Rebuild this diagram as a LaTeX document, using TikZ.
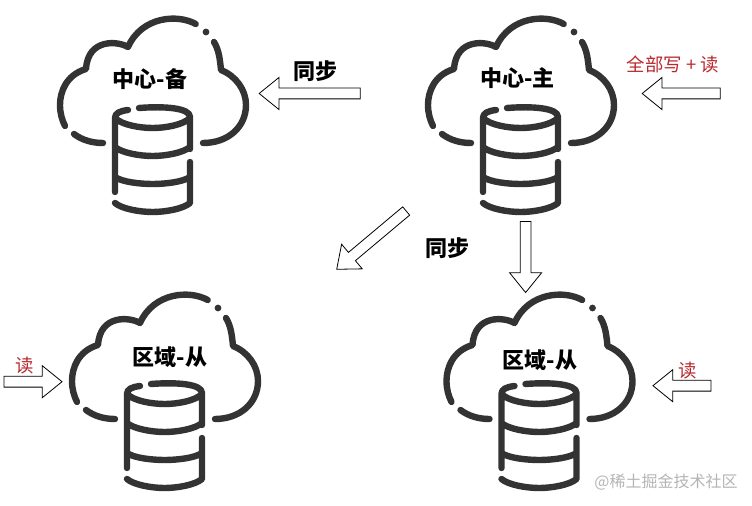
\documentclass[tikz,border=0pt]{standalone}
\usepackage{fontspec}
\usepackage{tikz}
\usetikzlibrary{shapes.arrows}
\newfontfamily\cjk{Noto Sans CJK SC}
\definecolor{iconline}{HTML}{333333}
\definecolor{labelred}{HTML}{B8282E}
\definecolor{markgray}{HTML}{B4B4B4}
\tikzset{
    flow/.style={
           single arrow,
           draw=black, line width=0.6pt,
           fill=white,
           inner xsep=0pt,
           inner ysep=3.75pt,
           minimum width=23.5pt,
           single arrow head extend=8pt,
           single arrow tip angle=78,
           },
    title/.style={font=\cjk\bfseries\fontsize{16.5}{17}\selectfont, text=black, inner sep=0pt},
    access/.style={font=\cjk\fontsize{13.8}{14}\selectfont, text=labelred, inner sep=0pt},
    pics/cloudstore/.style={
      code={
        \draw[iconline, line width=4.8pt, line cap=round, line join=round]
          (165.7,14) .. controls (148,4) and (112,6) .. (98,37)
            .. controls (88,31) and (58,28) .. (56,59)
            .. controls (36,65) and (30,82) .. (30,95)
            .. controls (30,103) and (32,110) .. (35,116)
          (44,124) .. controls (52,130) and (62,133) .. (73,133)
          (184,32) .. controls (189,40) and (190,50) .. (191,60)
            .. controls (206,66) and (216,80) .. (216,95)
            .. controls (216,117) and (198,133) .. (173,133)
          % store
          (109,98) .. controls (135,96) and (160,98) .. (160,107)
            -- (160,139)
          (98,100) .. controls (90,101) and (85,103) .. (85,108)
            -- (85,182)
          (85,108) .. controls (92,115) and (110,118) .. (122.7,118)
            .. controls (135,118) and (153,115) .. (160,108)
          (85,137) .. controls (92,143) and (110,146) .. (122.7,146)
            .. controls (135,146) and (153,143) .. (160,137)
          (85,167) .. controls (92,172) and (110,174) .. (122.7,174)
            .. controls (135,174) and (153,172) .. (160,167)
          (85,193) .. controls (92,199) and (110,202) .. (122.7,202)
            .. controls (135,202) and (153,199) .. (160,193)
            -- (160,152);
        \fill[iconline] (176,22) circle (3.4);
      }
    },
}

\begin{document}
\begin{tikzpicture}[x=0.75pt,y=-0.75pt]
  \useasboundingbox (0,0) rectangle (752,506);

  \pic at (30,10) {cloudstore};
  \pic at (398,10) {cloudstore};
  \pic at (42,286) {cloudstore};
  \pic at (416.5,286) {cloudstore};

  \node[title] (standby) at (150,79) {中心-备};
  \node[title] (primary) at (517.5,78) {中心-主};
  \node[title] (regionL) at (170,357) {区域-从};
  \node[title] (regionR) at (540,360) {区域-从};

  \node[title] (syncTop) at (315,71) {同步};
  \node[title] (syncMid) at (447,248) {同步};

  \node[access] (writeRead) at (673,64) {全部写 + 读};
  \node[access] (readL) at (25,366) {读};
  \node[access] (readR) at (688,371) {读};

  \node[flow, minimum height=75.75pt, rotate=180] (toStandby) at (313,93.5) {};
  \node[flow, minimum height=58.5pt, rotate=180] (toPrimary) at (684.5,93.5) {};
  \node[flow, minimum height=68pt, rotate=220] (toRegionL) at (374,238) {};
  \node[flow, minimum height=53.25pt, rotate=270] (toRegionR) at (525.6,253.7) {};
  \node[flow, minimum height=43.5pt] (inL) at (29.7,381.7) {};
  \node[flow, minimum height=43.5pt, rotate=180] (inR) at (685.3,385.7) {};

  \node[font=\cjk\fontsize{12}{12}\selectfont, text=markgray, inner sep=0pt] (mark) at (666,482) {@稀土掘金技术社区};
\end{tikzpicture}
\end{document}
